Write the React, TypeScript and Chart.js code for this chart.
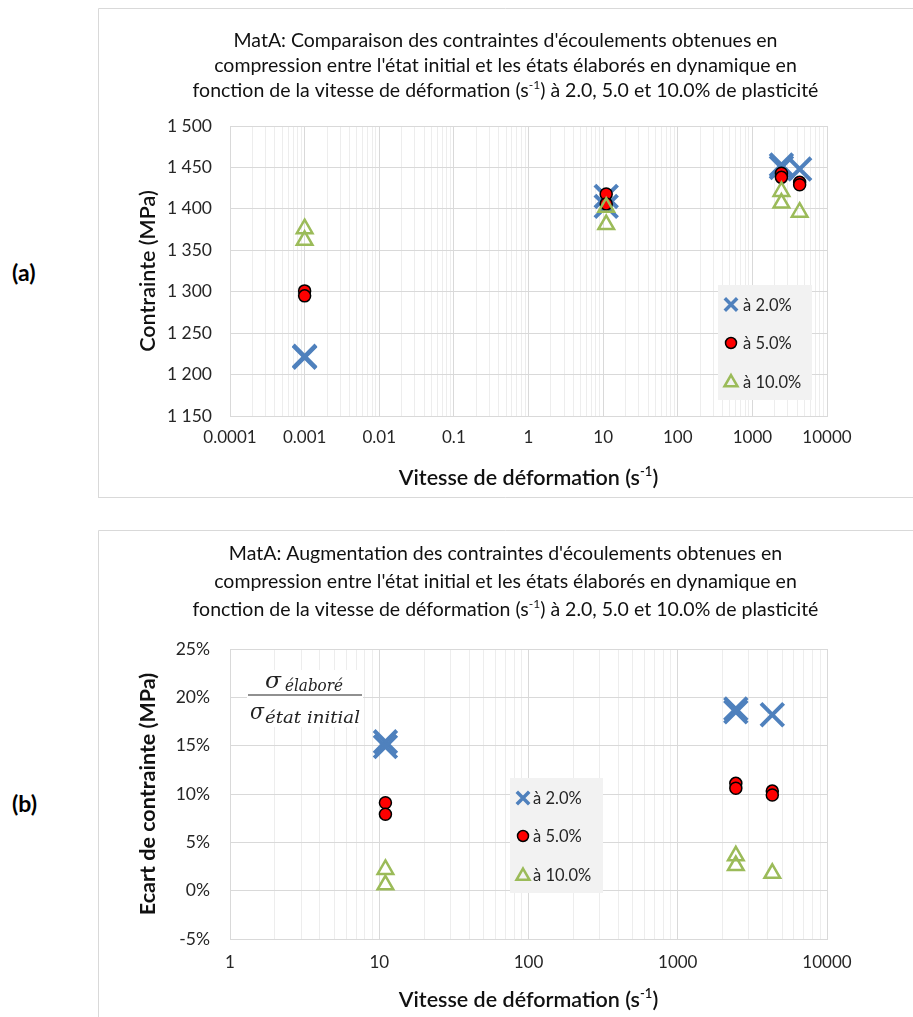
import React, { useEffect, useRef } from 'react';
import { Chart, registerables } from 'chart.js';

Chart.register(...registerables);

const FONT = 'Lato, "Noto Sans", sans-serif';
const MATH_FONT = '"DejaVu Serif", "Liberation Serif", serif';

const BLUE = '#4f81bd';
const RED = '#ff0000';
const GREEN = '#9bbb59';
const GRID_MAJOR = '#d9d9d9';
const GRID_MINOR = '#ededed';
const TEXT = '#111111';

type Seg = { t: string; sup?: boolean };

const SERIES_LABELS = ['à 2.0%', 'à 5.0%', 'à 10.0%'];

// ---------- Chart (a) ----------
const A_TITLE: Seg[][] = [
  [{ t: "MatA: Comparaison des contraintes d'écoulements obtenues en" }],
  [{ t: "compression entre l'état initial et les états élaborés en dynamique en" }],
  [{ t: 'fonction de la vitesse de déformation (s' }, { t: '-1', sup: true }, { t: ') à 2.0, 5.0 et 10.0% de plasticité' }],
];
const A_X_TICK_VALUES = [0.0001, 0.001, 0.01, 0.1, 1, 10, 100, 1000, 10000];
const A_X_TICK_LABELS = ['0.0001', '0.001', '0.01', '0.1', '1', '10', '100', '1000', '10000'];
const A_Y_MIN = 1150;
const A_Y_MAX = 1500;
const A_Y_STEP = 50;
const A_Y_TITLE = 'Contrainte (MPa)';

const A_RATE_2 = [0.001, 0.001, 11, 11, 2450, 2450, 4300];
const A_STRESS_2 = [1221, 1222, 1415, 1403, 1453, 1450, 1448];
const A_RATE_5 = [0.001, 0.001, 11, 11, 2450, 2450, 4300, 4300];
const A_STRESS_5 = [1301, 1295, 1418, 1406, 1443, 1438, 1432, 1429];
const A_RATE_10 = [0.001, 0.001, 11, 11, 2450, 2450, 4300];
const A_STRESS_10 = [1376, 1362, 1402, 1381, 1421, 1407, 1396];

// ---------- Chart (b) ----------
const B_TITLE: Seg[][] = [
  [{ t: "MatA: Augmentation des contraintes d'écoulements obtenues en" }],
  [{ t: "compression entre l'état initial et les états élaborés en dynamique en" }],
  [{ t: 'fonction de la vitesse de déformation (s' }, { t: '-1', sup: true }, { t: ') à 2.0, 5.0 et 10.0% de plasticité' }],
];
const B_X_TICK_VALUES = [1, 10, 100, 1000, 10000];
const B_X_TICK_LABELS = ['1', '10', '100', '1000', '10000'];
const B_Y_MIN = -5;
const B_Y_MAX = 25;
const B_Y_STEP = 5;
const B_Y_TITLE = 'Ecart de contrainte (MPa)';

const B_RATE_2 = [11, 11, 2450, 2450, 4300];
const B_GAIN_2 = [15.4, 14.9, 18.8, 18.5, 18.2];
const B_RATE_5 = [11, 11, 2450, 2450, 4300, 4300];
const B_GAIN_5 = [9.1, 7.9, 11.1, 10.6, 10.3, 9.9];
const B_RATE_10 = [11, 11, 2450, 2450, 4300];
const B_GAIN_10 = [2.2, 0.6, 3.6, 2.6, 1.8];

const X_TITLE: Seg[] = [{ t: 'Vitesse de déformation (s' }, { t: '-1', sup: true }, { t: ')' }];

const FRACTION_NUM = 'élaboré';
const FRACTION_DEN = 'état initial';

// ---------- helpers ----------
function logGridValues(decades: number[]): number[] {
  const out: number[] = [];
  for (let i = 0; i < decades.length - 1; i++) {
    for (let k = 1; k < 10; k++) out.push(decades[i] * k);
  }
  out.push(decades[decades.length - 1]);
  return out;
}

function decadeIndex(values: number[], v: number): number {
  return values.findIndex((d) => Math.abs(d - v) < d * 1e-6);
}

function toPoints(xs: number[], ys: number[]) {
  return xs.map((x, i) => ({ x, y: ys[i] }));
}

function drawSegs(ctx: CanvasRenderingContext2D, segs: Seg[], cx: number, cy: number, size: number, weight: string, color: string) {
  const main = `${weight} ${size}px ${FONT}`;
  const sup = `${weight} ${Math.round(size * 0.62)}px ${FONT}`;
  const widths = segs.map((s) => {
    ctx.font = s.sup ? sup : main;
    return ctx.measureText(s.t).width;
  });
  const total = widths.reduce((a, b) => a + b, 0);
  let x = cx - total / 2;
  ctx.fillStyle = color;
  ctx.textAlign = 'left';
  ctx.textBaseline = 'alphabetic';
  const base = cy + size * 0.36;
  segs.forEach((s, i) => {
    ctx.font = s.sup ? sup : main;
    ctx.fillText(s.t, x, s.sup ? base - size * 0.4 : base);
    x += widths[i];
  });
}

// draw italic text squeezed/stretched into a given width
function drawFit(ctx: CanvasRenderingContext2D, text: string, x: number, baseline: number, size: number, width: number) {
  ctx.font = `italic ${size}px ${MATH_FONT}`;
  const w = ctx.measureText(text).width;
  ctx.save();
  ctx.translate(x, baseline);
  ctx.scale(width / w, 1);
  ctx.fillText(text, 0, 0);
  ctx.restore();
}

function drawMarker(ctx: CanvasRenderingContext2D, kind: number, x: number, y: number) {
  ctx.save();
  if (kind === 0) {
    const s = 6.2;
    ctx.strokeStyle = BLUE;
    ctx.lineWidth = 3.5;
    ctx.beginPath();
    ctx.moveTo(x - s, y - s);
    ctx.lineTo(x + s, y + s);
    ctx.moveTo(x + s, y - s);
    ctx.lineTo(x - s, y + s);
    ctx.stroke();
  } else if (kind === 1) {
    ctx.fillStyle = RED;
    ctx.strokeStyle = '#000';
    ctx.lineWidth = 1.5;
    ctx.beginPath();
    ctx.arc(x, y, 5.5, 0, Math.PI * 2);
    ctx.fill();
    ctx.stroke();
  } else {
    const r = 7.5;
    ctx.strokeStyle = GREEN;
    ctx.lineWidth = 2.5;
    ctx.beginPath();
    for (let i = 0; i < 3; i++) {
      const a = (i * 2 * Math.PI) / 3;
      const px = x + Math.sin(a) * r;
      const py = y - Math.cos(a) * r + 1;
      if (i === 0) ctx.moveTo(px, py);
      else ctx.lineTo(px, py);
    }
    ctx.closePath();
    ctx.stroke();
  }
  ctx.restore();
}

type Spec = {
  top: number;
  height: number;
  area: { left: number; right: number; top: number; bottom: number };
  title: Seg[][];
  titleY: number[];
  xValues: number[];
  xLabels: string[];
  xPad: number;
  yMin: number;
  yMax: number;
  yStep: number;
  yPad: number;
  yFmt: (v: number) => string;
  yTitle: string;
  yTitleWeight: string;
  xTitleY: number;
  series: { x: number[]; y: number[] }[];
  legend: { x: number; y: number; w: number; h: number; rows: number[]; markerX: number; textX: number };
  fraction: boolean;
};

const WIDTH = 815;

const SPEC_A: Spec = {
  top: 8,
  height: 490,
  area: { left: 132, right: 729, top: 118, bottom: 408 },
  title: A_TITLE,
  titleY: [32, 57, 82],
  xValues: A_X_TICK_VALUES,
  xLabels: A_X_TICK_LABELS,
  xPad: 11,
  yMin: A_Y_MIN,
  yMax: A_Y_MAX,
  yStep: A_Y_STEP,
  yPad: 18,
  yFmt: (v) => String(v).replace(/\B(?=(\d{3})+(?!\d))/g, ' '),
  yTitle: A_Y_TITLE,
  yTitleWeight: '600',
  xTitleY: 469,
  series: [
    { x: A_RATE_2, y: A_STRESS_2 },
    { x: A_RATE_5, y: A_STRESS_5 },
    { x: A_RATE_10, y: A_STRESS_10 },
  ],
  legend: { x: 620, y: 277, w: 94, h: 115, rows: [296.5, 335, 373.5], markerX: 633, textX: 645 },
  fraction: false,
};

const SPEC_B: Spec = {
  top: 530,
  height: 487,
  area: { left: 132, right: 729, top: 119, bottom: 409 },
  title: B_TITLE,
  titleY: [23, 51, 79],
  xValues: B_X_TICK_VALUES,
  xLabels: B_X_TICK_LABELS,
  xPad: 13,
  yMin: B_Y_MIN,
  yMax: B_Y_MAX,
  yStep: B_Y_STEP,
  yPad: 20,
  yFmt: (v) => `${v}%`,
  yTitle: B_Y_TITLE,
  yTitleWeight: 'bold',
  xTitleY: 469,
  series: [
    { x: B_RATE_2, y: B_GAIN_2 },
    { x: B_RATE_5, y: B_GAIN_5 },
    { x: B_RATE_10, y: B_GAIN_10 },
  ],
  legend: { x: 412, y: 248, w: 93, h: 115, rows: [268, 306, 345], markerX: 425, textX: 435 },
  fraction: true,
};

function makeOverlay(spec: Spec) {
  return {
    id: 'overlay',
    afterDraw(chart: any) {
      const ctx: CanvasRenderingContext2D = chart.ctx;
      const ca = chart.chartArea;
      ctx.save();
      // outer box border
      ctx.strokeStyle = GRID_MAJOR;
      ctx.lineWidth = 1;
      ctx.beginPath();
      ctx.moveTo(0.5, spec.height);
      ctx.lineTo(0.5, 0.5);
      ctx.lineTo(WIDTH, 0.5);
      if (!spec.fraction) {
        ctx.moveTo(0.5, spec.height - 0.5);
        ctx.lineTo(WIDTH, spec.height - 0.5);
      }
      ctx.stroke();

      // title
      spec.title.forEach((line, i) => drawSegs(ctx, line, WIDTH / 2, spec.titleY[i], 19.5, 'normal', TEXT));

      // x axis title
      drawSegs(ctx, X_TITLE, (ca.left + ca.right) / 2, spec.xTitleY, 21.5, '600', TEXT);

      // y axis title
      ctx.save();
      ctx.translate(49, (ca.top + ca.bottom) / 2);
      ctx.rotate(-Math.PI / 2);
      drawSegs(ctx, [{ t: spec.yTitle }], 0, 0, 21.5, spec.yTitleWeight, TEXT);
      ctx.restore();

      // legend
      const lg = spec.legend;
      ctx.fillStyle = '#f2f2f2';
      ctx.fillRect(lg.x, lg.y, lg.w, lg.h);
      SERIES_LABELS.forEach((label, i) => {
        drawMarker(ctx, i, lg.markerX, lg.rows[i]);
        ctx.font = `normal 16.5px ${FONT}`;
        ctx.fillStyle = '#262626';
        ctx.textAlign = 'left';
        ctx.textBaseline = 'middle';
        ctx.fillText(label, lg.textX, lg.rows[i] + 1);
      });

      // fraction annotation
      if (spec.fraction) {
        ctx.fillStyle = '#ffffff';
        ctx.fillRect(149, 140, 116, 57);
        ctx.fillStyle = '#222';
        ctx.textAlign = 'left';
        ctx.textBaseline = 'alphabetic';
        drawFit(ctx, 'σ', 167, 158, 23, 16);
        drawFit(ctx, FRACTION_NUM, 187, 161, 17, 58);
        ctx.strokeStyle = '#222';
        ctx.lineWidth = 1.2;
        ctx.beginPath();
        ctx.moveTo(150, 165);
        ctx.lineTo(264, 165);
        ctx.stroke();
        drawFit(ctx, 'σ', 152, 189, 23, 14);
        drawFit(ctx, FRACTION_DEN, 167, 193, 17, 95);
      }
      ctx.restore();
    },
  };
}

function ScatterPanel({ spec }: { spec: Spec }) {
  const ref = useRef<HTMLCanvasElement | null>(null);
  useEffect(() => {
    if (!ref.current) return;
    const gridValues = logGridValues(spec.xValues);
    const chart = new Chart(ref.current, {
      type: 'scatter',
      data: {
        datasets: [
          {
            label: SERIES_LABELS[0],
            data: toPoints(spec.series[0].x, spec.series[0].y),
            pointStyle: 'crossRot',
            pointRadius: 16,
            pointHoverRadius: 16,
            pointBorderWidth: 4,
            pointBorderColor: BLUE,
            pointBackgroundColor: BLUE,
            showLine: false,
            order: 3,
          },
          {
            label: SERIES_LABELS[1],
            data: toPoints(spec.series[1].x, spec.series[1].y),
            pointStyle: 'circle',
            pointRadius: 6,
            pointHoverRadius: 6,
            pointBorderWidth: 1.5,
            pointBorderColor: '#000000',
            pointBackgroundColor: RED,
            showLine: false,
            order: 2,
          },
          {
            label: SERIES_LABELS[2],
            data: toPoints(spec.series[2].x, spec.series[2].y),
            pointStyle: 'triangle',
            pointRadius: 9,
            pointHoverRadius: 9,
            pointBorderWidth: 2.5,
            pointBorderColor: GREEN,
            pointBackgroundColor: 'rgba(0,0,0,0)',
            showLine: false,
            order: 1,
          },
        ],
      },
      options: {
        responsive: false,
        animation: false,
        devicePixelRatio: 1,
        events: [],
        layout: {
          padding: { left: 0, right: WIDTH - spec.area.right, top: spec.area.top, bottom: 0 },
        },
        plugins: {
          legend: { display: false },
          tooltip: { enabled: false },
          title: { display: false },
        },
        scales: {
          x: {
            type: 'logarithmic',
            min: spec.xValues[0],
            max: spec.xValues[spec.xValues.length - 1],
            afterBuildTicks: (axis: any) => {
              axis.ticks = gridValues.map((v) => ({ value: v }));
            },
            afterFit: (axis: any) => {
              axis.height = spec.height - spec.area.bottom;
            },
            ticks: {
              autoSkip: false,
              maxRotation: 0,
              minRotation: 0,
              padding: spec.xPad,
              color: '#262626',
              font: { family: FONT, size: 17 },
              callback: (value: any) => {
                const i = decadeIndex(spec.xValues, Number(value));
                return i >= 0 ? spec.xLabels[i] : '';
              },
            },
            grid: {
              drawTicks: false,
              lineWidth: 1,
              color: (c: any) => (c.tick && decadeIndex(spec.xValues, c.tick.value) >= 0 ? GRID_MAJOR : GRID_MINOR),
            },
            border: { color: GRID_MAJOR },
          },
          y: {
            type: 'linear',
            min: spec.yMin,
            max: spec.yMax,
            afterFit: (axis: any) => {
              axis.width = spec.area.left;
            },
            ticks: {
              stepSize: spec.yStep,
              padding: spec.yPad,
              color: '#262626',
              font: { family: FONT, size: 17.5 },
              callback: (value: any) => spec.yFmt(Number(value)),
            },
            grid: { drawTicks: false, color: GRID_MAJOR, lineWidth: 1 },
            border: { color: GRID_MAJOR },
          },
        },
      } as any,
      plugins: [makeOverlay(spec)],
    });
    return () => chart.destroy();
  }, [spec]);
  return (
    <canvas
      ref={ref}
      width={WIDTH}
      height={spec.height}
      style={{ position: 'absolute', left: 98, top: spec.top, width: WIDTH, height: spec.height }}
    />
  );
}

export default function App() {
  const labelStyle: React.CSSProperties = {
    position: 'absolute',
    left: 12,
    font: `bold 23px ${FONT}`,
    lineHeight: '26px',
    color: '#000',
  };
  return (
    <div style={{ position: 'absolute', left: 0, top: 0, width: 913, height: 1017, overflow: 'hidden', background: '#fff' }}>
      <div style={{ ...labelStyle, top: 259 }}>(a)</div>
      <div style={{ ...labelStyle, top: 790 }}>(b)</div>
      <ScatterPanel spec={SPEC_A} />
      <ScatterPanel spec={SPEC_B} />
    </div>
  );
}
